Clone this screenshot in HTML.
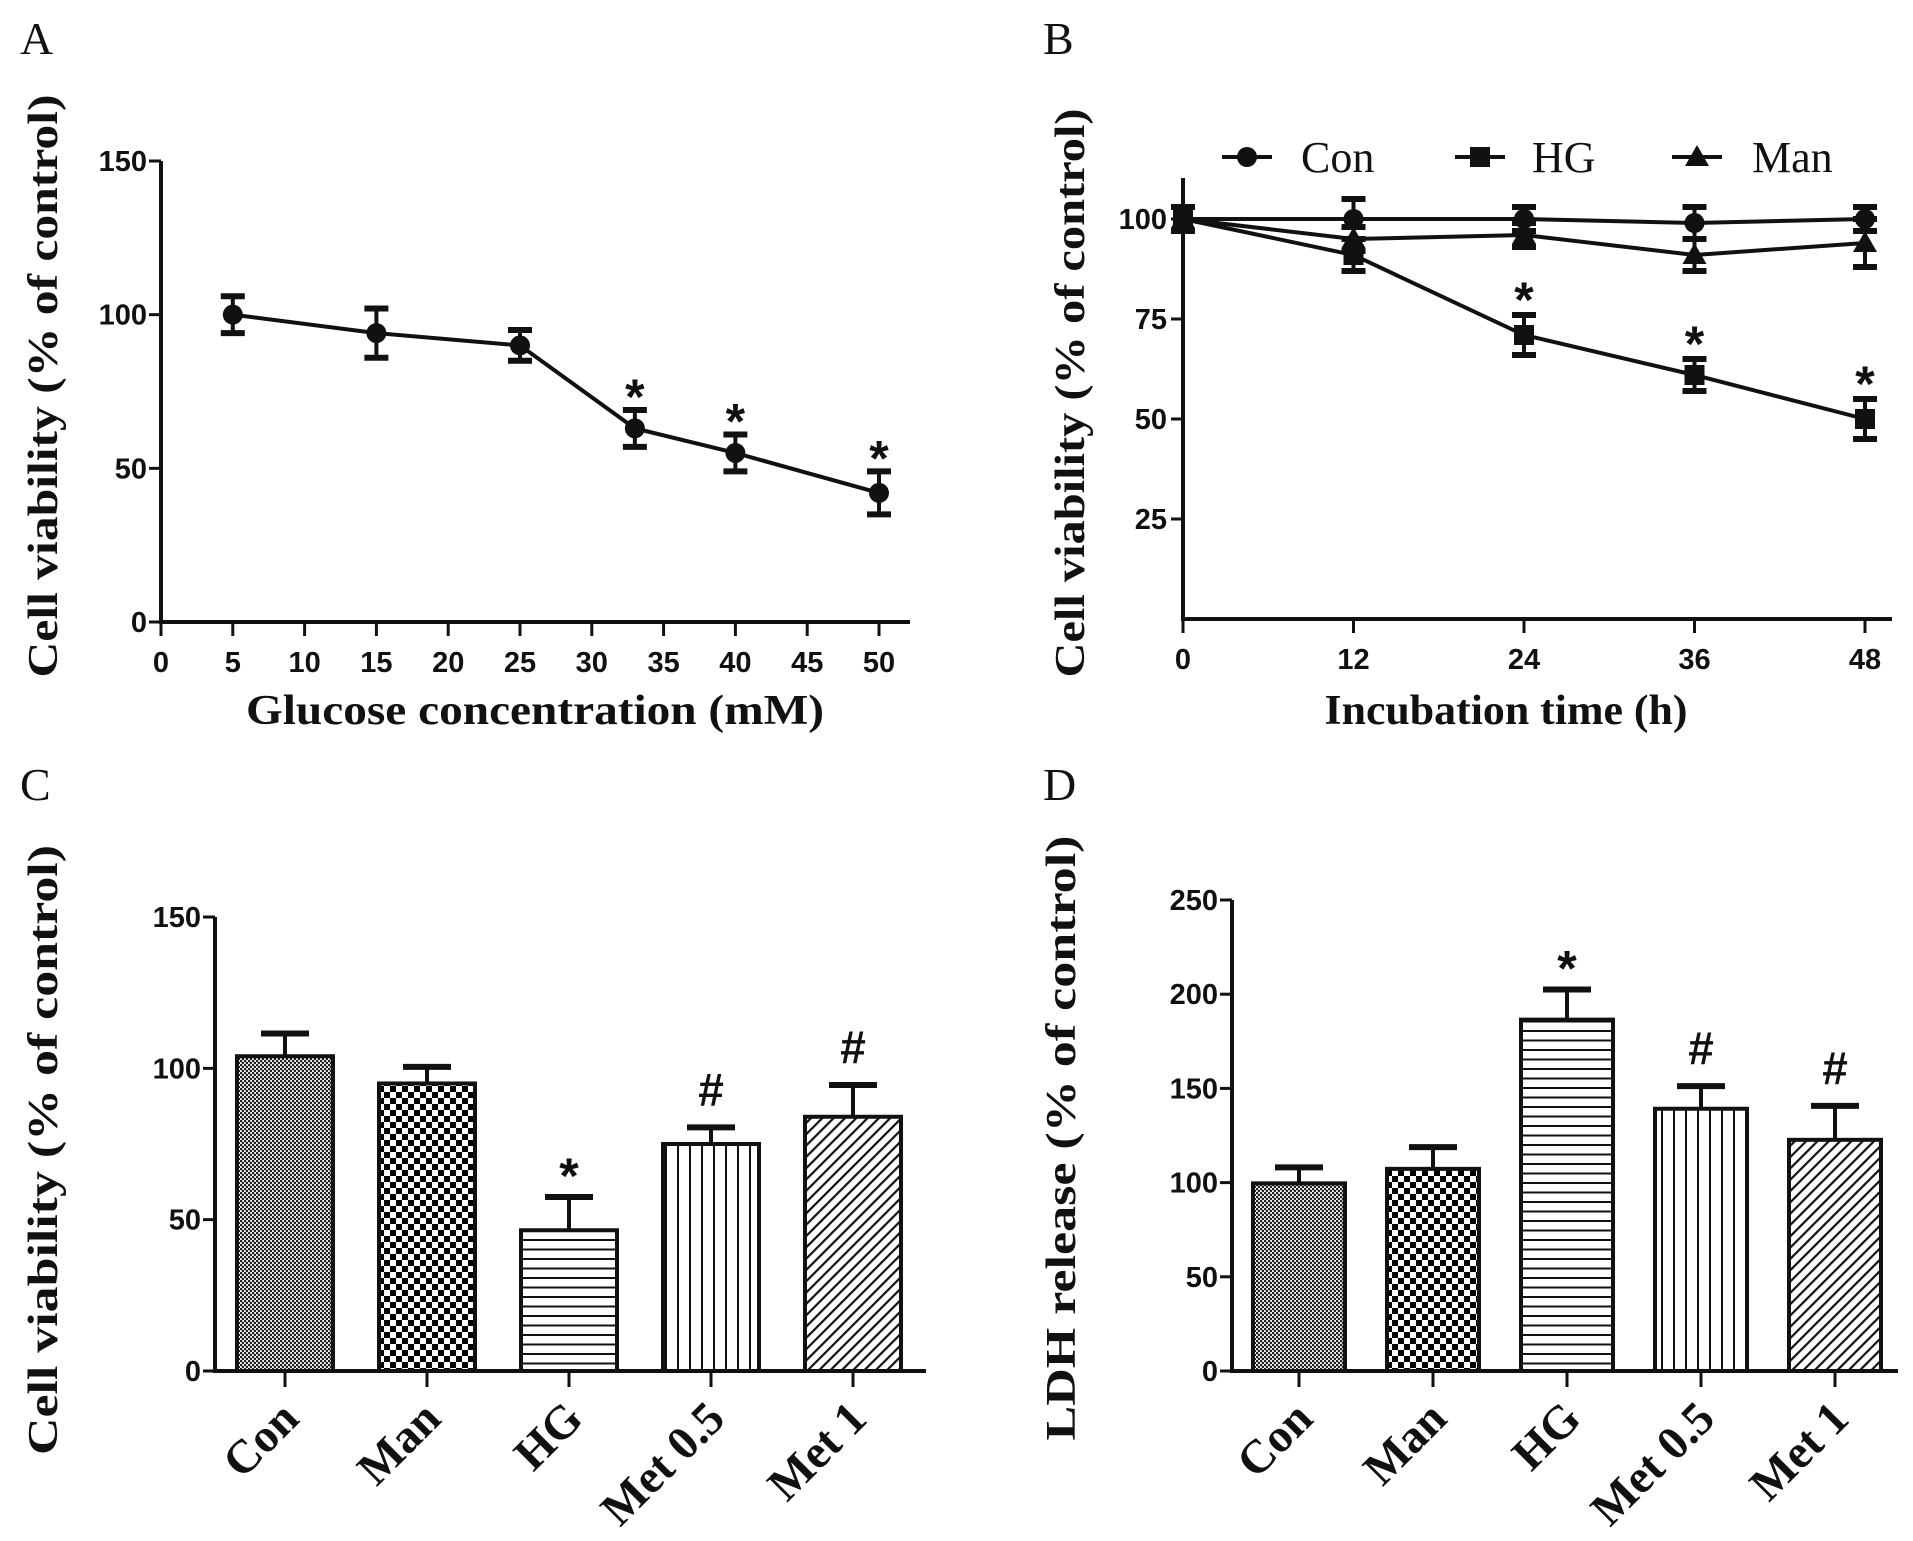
<!DOCTYPE html>
<html><head><meta charset="utf-8"><style>
html,body{margin:0;padding:0;background:#fff}
svg{display:block}
.tk{font-family:"Liberation Sans",sans-serif;font-weight:bold;font-size:29px;fill:#111}
.ti{font-family:"Liberation Serif",serif;font-weight:bold;font-size:42px;fill:#111}
.pl{font-family:"Liberation Serif",serif;font-size:46px;fill:#111}
.lg{font-family:"Liberation Serif",serif;font-size:44px;fill:#111}
.cat{font-family:"Liberation Serif",serif;font-weight:bold;font-size:47px;fill:#111}
.sig{font-family:"Liberation Sans",sans-serif;font-weight:bold;font-size:50px;fill:#111}
.hash{font-family:"Liberation Sans",sans-serif;font-weight:bold;font-size:46px;fill:#111}
</style></head><body>
<svg id="fig" width="1913" height="1541" viewBox="0 0 1913 1541" xmlns="http://www.w3.org/2000/svg">
<defs>
<pattern id="pCon" width="4" height="4" patternUnits="userSpaceOnUse"><rect width="4" height="4" fill="#fff"/><circle cx="1" cy="1" r="1.3" fill="#222"/><circle cx="3" cy="3" r="1.3" fill="#222"/></pattern>
<pattern id="pMan" width="12" height="12" patternUnits="userSpaceOnUse"><rect width="12" height="12" fill="#fff"/><rect width="6" height="6" fill="#000"/><rect x="6" y="6" width="6" height="6" fill="#000"/></pattern>
<pattern id="pHG" width="10" height="9.5" patternUnits="userSpaceOnUse"><rect width="10" height="9.5" fill="#fff"/><rect y="4" width="10" height="2" fill="#111"/></pattern>
<pattern id="pM5" width="12" height="10" patternUnits="userSpaceOnUse"><rect width="12" height="10" fill="#fff"/><rect x="5" width="2" height="10" fill="#111"/></pattern>
<pattern id="pM1" width="8" height="8" patternUnits="userSpaceOnUse" patternTransform="rotate(45)"><rect width="8" height="8" fill="#fff"/><rect x="3" width="2.2" height="8" fill="#111"/></pattern>
</defs>
<text class="pl" x="20" y="54">A</text>
<text class="pl" x="1043" y="54">B</text>
<text class="pl" x="20" y="800">C</text>
<text class="pl" x="1043" y="800">D</text>
<g id="A"></g><g id="B"></g><g id="C"></g><g id="D"></g>
</svg>
<script>
// Panel A data
const aX = [5, 15, 25, 33, 40, 50];
const aY = [100, 94, 90, 63, 55, 42];
const aErr = [6, 8, 5, 6, 6, 7];
const aSig = [false, false, false, true, true, true];
const aXTicks = [0,5,10,15,20,25,30,35,40,45,50];
const aYTicks = [0,50,100,150];
// Panel B data
const bX = [0, 12, 24, 36, 48];
const bCon = [100, 100, 100, 99, 100];
const bConErr = [3, 5, 3, 4, 3];
const bHG = [100, 91, 71, 61, 50];
const bHGErr = [3, 4, 5, 4, 5];
const bMan = [100, 95, 96, 91, 94];
const bManErr = [3, 3, 3, 4, 6];
const bSig = [false, false, true, true, true];
const bXTicks = [0,12,24,36,48];
const bYTicks = [25,50,75,100];
// Panel C data
const cats = ["Con","Man","HG","Met 0.5","Met 1"];
const cVal = [104, 95, 46.5, 75, 84];
const cErr = [7.5, 5.5, 11, 5.5, 10.5];
const cMark = ["", "", "*", "#", "#"];
const cYTicks = [0,50,100,150];
// Panel D data
const dVal = [99.6, 107.3, 186.5, 139.2, 122.7];
const dErr = [8.5, 11.5, 16, 12, 18];
const dMark = ["", "", "*", "#", "#"];
const dYTicks = [0,50,100,150,200,250];

const NS = "http://www.w3.org/2000/svg";
function mk(parent, tag, attrs, txt){
  const e = document.createElementNS(NS, tag);
  for (const k in attrs) e.setAttribute(k, attrs[k]);
  if (txt !== undefined) e.textContent = txt;
  parent.appendChild(e);
  return e;
}
function line(g,x1,y1,x2,y2,w){return mk(g,"line",{x1,y1,x2,y2,stroke:"#111","stroke-width":w||4});}

function errBar(g, x, yTop, yBot, cap, bottomCap){
  const s = line(g,x,yTop,x,yBot,4);
  
  
  const c1 = line(g,x-cap,yTop,x+cap,yTop,6);
  
  
  if (bottomCap) {
    const c2 = line(g,x-cap,yBot,x+cap,yBot,6);
    
    
  }
}

// ---------- Panel A ----------
(function(){
  const g = document.getElementById('A');
  const X0=161, Y0=622, xs=(879-161)/50, ys=(622-161)/150;
  const fx=v=>X0+v*xs, fy=v=>Y0-v*ys;
  const ax=line(g,X0,fy(150),X0,Y0+2,4);  
  const bx=line(g,X0-2,Y0,910,Y0,4);  
  aYTicks.forEach(v=>{
    line(g,X0-12,fy(v),X0,fy(v),3);
    const t=mk(g,"text",{class:"tk",x:X0-14,y:fy(v)+10,"text-anchor":"end"},String(v));
     
  });
  aXTicks.forEach(v=>{
    line(g,fx(v),Y0,fx(v),Y0+14,3);
    const t=mk(g,"text",{class:"tk",x:fx(v),y:Y0+50,"text-anchor":"middle"},String(v));
     
  });
  const pts=aX.map((x,i)=>fx(x)+","+fy(aY[i])).join(" ");
  const pl=mk(g,"polyline",{points:pts,fill:"none",stroke:"#111","stroke-width":4});
   
  aX.forEach((x,i)=>{
    errBar(g,fx(x),fy(aY[i]+aErr[i]),fy(aY[i]-aErr[i]),12,true);
    const c=mk(g,"circle",{cx:fx(x),cy:fy(aY[i]),r:10,fill:"#111"});
     
    if(aSig[i]){const s=mk(g,"text",{class:"sig",x:fx(x),y:fy(aY[i]+aErr[i])+4,"text-anchor":"middle"},"*");
       }
  });
  const xt=mk(g,"text",{class:"ti",x:535,y:724,"text-anchor":"middle",textLength:578,lengthAdjust:"spacingAndGlyphs"},"Glucose concentration (mM)");
   
  const yt=mk(g,"text",{class:"ti",x:0,y:0,"text-anchor":"middle",textLength:583,lengthAdjust:"spacingAndGlyphs",transform:"translate(57,386) rotate(-90)"},"Cell viability (% of control)");
   
})();

// ---------- Panel B ----------
(function(){
  const g = document.getElementById('B');
  const X0=1183, Y0=619, xs=(1865-1183)/48, ys=4;
  const fx=v=>X0+v*xs, fy=v=>Y0-v*ys;
  const ax=line(g,X0,178,X0,Y0+2,4);  
  const bx=line(g,X0-2,Y0,1892,Y0,4);  
  bYTicks.forEach(v=>{
    line(g,X0-12,fy(v),X0,fy(v),3);
    const t=mk(g,"text",{class:"tk",x:X0-16,y:fy(v)+10,"text-anchor":"end"},String(v));
     
  });
  bXTicks.forEach(v=>{
    line(g,fx(v),Y0,fx(v),Y0+14,3);
    const t=mk(g,"text",{class:"tk",x:fx(v),y:Y0+50,"text-anchor":"middle"},String(v));
     
  });
  function marker(x,y,type){
    let e;
    if(type==="circle") e=mk(g,"circle",{cx:x,cy:y,r:10,fill:"#111"});
    else if(type==="square") e=mk(g,"rect",{x:x-10,y:y-10,width:20,height:20,fill:"#111"});
    else e=mk(g,"polygon",{points:`${x},${y-12} ${x+12},${y+9} ${x-12},${y+9}`,fill:"#111"});
    return e;
  }
  const series=[[bCon,bConErr,"circle","con"],[bMan,bManErr,"triangle","man"],[bHG,bHGErr,"square","hg"]];
  series.forEach(([vals,errs,type,nm])=>{
    const pl=mk(g,"polyline",{points:bX.map((x,i)=>fx(x)+","+fy(vals[i])).join(" "),fill:"none",stroke:"#111","stroke-width":4});
     
    bX.forEach((x,i)=>{
      errBar(g,fx(x),fy(vals[i]+errs[i]),fy(vals[i]-errs[i]),12,true);
      const m=marker(fx(x),fy(vals[i]),type);
       
    });
  });
  bX.forEach((x,i)=>{ if(bSig[i]){
    const s=mk(g,"text",{class:"sig",x:fx(x),y:fy(bHG[i]+bHGErr[i])+2,"text-anchor":"middle"},"*");
     }});
  // legend
  const leg=[["Con",1222,1301,"circle"],["HG",1455,1532,"square"],["Man",1672,1752,"triangle"]];
  leg.forEach(([lab,lx,tx,type])=>{
    const l=line(g,lx,157,lx+50,157,4);  
    const m=marker(lx+25,157,type);  
    const t=mk(g,"text",{class:"lg",x:tx,y:172},lab);  
  });
  const xt=mk(g,"text",{class:"ti",x:1506,y:724,"text-anchor":"middle",textLength:363,lengthAdjust:"spacingAndGlyphs"},"Incubation time (h)");
   
  const yt=mk(g,"text",{class:"ti",x:0,y:0,"text-anchor":"middle",textLength:569,lengthAdjust:"spacingAndGlyphs",transform:"translate(1084,393) rotate(-90)"},"Cell viability (% of control)");
   
})();

// ---------- Bar panels ----------
function barPanel(id, vals, errs, marks, yTicks, yMax, X0, Y0, Ytop, xEnd, c0, step, bw, title, tx, ty, tlen){
  const g=document.getElementById(id);
  const ys=(Y0-Ytop)/yMax, fy=v=>Y0-v*ys;
  const fills=["url(#pCon)","url(#pMan)","url(#pHG)","url(#pM5)","url(#pM1)"];
  vals.forEach((v,i)=>{
    const cx=c0+i*step;
    errBar(g,cx,fy(v+errs[i]),fy(v),24,false);
    const r=mk(g,"rect",{x:cx-bw/2,y:fy(v),width:bw,height:Y0-fy(v),fill:fills[i],stroke:"#111","stroke-width":4});
    
    
    if(marks[i]){
      const star = marks[i]==="*";
      const s=mk(g,"text",{class:star?"sig":"hash",x:cx,y:fy(v+errs[i])-(star?4:22),"text-anchor":"middle"},marks[i]);
       
    }
    line(g,cx,Y0,cx,Y0+16,3);
    const t=mk(g,"text",{class:"cat",x:0,y:0,"text-anchor":"end",transform:`translate(${cx+16},${Y0+50}) rotate(-45)`},cats[i]);
     
  });
  const ax=line(g,X0,Ytop,X0,Y0+2,4);  
  const bx=line(g,X0-2,Y0,xEnd,Y0,4);  
  yTicks.forEach(v=>{
    line(g,X0-12,fy(v),X0,fy(v),3);
    const t=mk(g,"text",{class:"tk",x:X0-14,y:fy(v)+10,"text-anchor":"end"},String(v));
     
  });
  const yt=mk(g,"text",{class:"ti",x:0,y:0,"text-anchor":"middle",textLength:tlen,lengthAdjust:"spacingAndGlyphs",transform:`translate(${tx},${ty}) rotate(-90)`},title);
   
}
barPanel('C', cVal, cErr, cMark, cYTicks, 150, 215, 1371, 917, 926, 285, 142, 96, "Cell viability (% of control)", 57, 1150, 610);
barPanel('D', dVal, dErr, dMark, dYTicks, 250, 1232, 1371, 900, 1898, 1299, 134, 92, "LDH release (% of control)", 1075, 1138, 605);
</script>
</body></html>
